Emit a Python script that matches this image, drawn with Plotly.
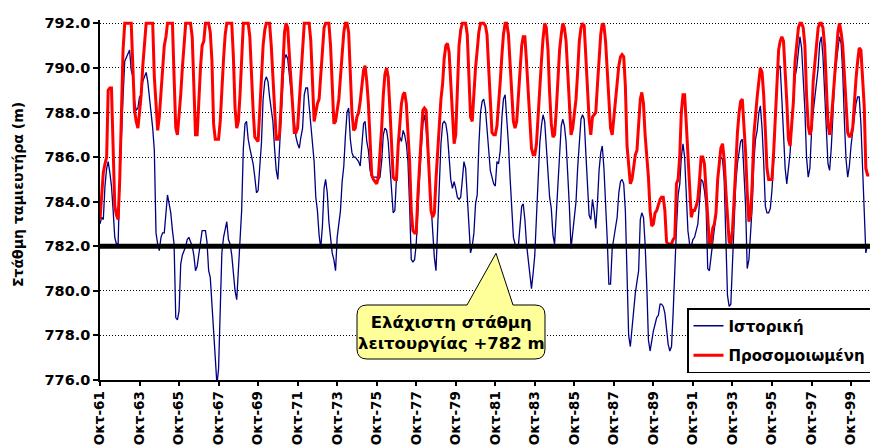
import pandas as pd
import plotly.graph_objects as go

# Monthly reservoir level (m), hydrological years starting in October 1961
historical = [
    783.0, 783.3, 783.2, 784.7, 785.5, 785.8, 785.3, 784.7, 783.6, 782.4, 782.1, 782.1,
    785.0, 787.2, 788.7, 790.3, 790.5, 790.6, 790.8, 789.9, 789.6, 788.5, 788.1, 788.2,
    788.7, 788.8, 789.4, 789.6, 789.8, 789.4, 788.7, 788.1, 787.3, 786.3, 782.6, 782.1,
    781.8, 782.4, 782.6, 782.6, 783.4, 784.3, 783.9, 783.5, 782.7, 782.1, 778.8, 778.7,
    779.1, 781.2, 781.6, 781.8, 782.0, 782.3, 782.4, 782.2, 782.0, 781.6, 780.9, 781.1,
    781.6, 782.2, 782.7, 782.7, 782.7, 782.2, 780.9, 780.6, 779.3, 778.0, 777.0, 775.8,
    776.5, 778.8, 781.7, 782.4, 782.8, 783.1, 782.3, 782.1, 781.6, 780.6, 780.0, 779.6,
    780.9, 781.9, 783.6, 786.4, 787.5, 787.6, 786.8, 786.4, 786.0, 785.7, 785.1, 784.4,
    784.5, 785.6, 786.6, 788.6, 789.4, 789.6, 789.4, 788.7, 788.1, 787.6, 786.4, 785.4,
    785.0, 786.2, 787.8, 789.3, 790.4, 790.6, 790.4, 789.7, 789.0, 788.2, 787.4, 786.9,
    786.6, 786.4, 786.9, 787.3, 788.8, 789.1, 789.1, 788.3, 787.3, 786.4, 785.8, 784.2,
    783.6, 782.5, 781.9, 782.9, 784.6, 785.0, 784.4, 783.1, 782.2, 781.7, 781.4, 780.9,
    782.4, 782.9, 783.6, 784.9, 785.6, 786.9, 788.0, 788.2, 786.8, 786.2, 786.0, 786.0,
    785.9, 785.8, 785.6, 786.6, 787.5, 787.6, 786.7, 786.3, 785.4, 785.1, 785.1, 785.1,
    785.1, 785.0, 785.1, 785.8, 787.0, 787.3, 787.2, 786.7, 785.5, 784.3, 783.5, 783.6,
    785.1, 786.6, 786.9, 786.7, 787.2, 787.0, 786.6, 785.8, 783.8, 781.4, 781.3, 781.4,
    782.1, 783.8, 785.1, 786.3, 787.5, 787.9, 787.3, 786.3, 785.1, 783.7, 782.2, 781.5,
    780.9, 782.8, 785.0, 786.6, 787.5, 787.6, 787.5, 787.0, 786.0, 785.0, 784.6, 784.9,
    784.6, 784.2, 784.1, 784.2, 785.0, 785.8, 785.5, 784.4, 783.1, 781.7, 782.0, 782.6,
    783.9, 784.3, 786.5, 788.0, 788.5, 788.6, 788.2, 787.4, 786.4, 785.4, 785.1, 784.8,
    784.7, 785.8, 785.7, 786.3, 787.8, 788.6, 788.8, 787.9, 786.6, 785.1, 783.6, 782.4,
    782.1, 781.9, 782.0, 782.9, 783.8, 783.9, 783.2, 782.1, 781.4, 780.6, 780.1, 780.8,
    781.6, 783.3, 785.2, 786.6, 787.4, 787.9, 787.6, 786.3, 785.1, 784.2, 783.7, 782.5,
    782.1, 783.4, 785.0, 786.5, 787.4, 787.7, 787.4, 786.7, 785.4, 783.8, 781.9, 782.7,
    783.2, 784.0, 785.5, 786.9, 787.7, 787.9, 787.7, 786.2, 784.7, 783.4, 783.2, 784.1,
    783.6, 782.8, 783.9, 785.4, 786.2, 786.5, 785.5, 784.2, 782.3, 780.3, 780.3, 781.9,
    782.3, 782.8, 783.3, 784.4, 784.9, 785.0, 784.8, 783.6, 781.0, 778.0, 777.5, 778.4,
    779.4, 779.9, 780.4, 780.9, 783.2, 783.5, 783.3, 782.1, 780.2, 777.8, 777.3, 777.8,
    778.2, 778.5, 778.8, 778.9, 779.4, 779.4, 779.3, 779.0, 778.2, 777.6, 777.3, 777.5,
    779.0, 781.3, 782.8, 784.3, 784.8, 786.0, 786.6, 786.0, 784.0, 782.7, 782.1, 782.0,
    782.3, 782.4, 782.7, 783.0, 784.0, 785.0, 784.9, 784.5, 783.8, 781.0, 780.9, 781.6,
    782.2, 782.8, 783.4, 785.0, 785.7, 786.0, 785.9, 785.0, 782.0, 779.8, 779.3, 779.4,
    781.2, 783.2, 784.8, 785.7, 786.2, 786.7, 786.8, 785.6, 783.8, 781.0, 781.4, 782.6,
    783.8, 785.8, 786.8, 787.2, 788.0, 788.3, 787.3, 785.8, 783.8, 783.5, 783.5, 783.7,
    784.5, 785.8, 788.0, 789.4, 790.0, 790.1, 788.6, 787.0, 785.5, 784.8, 785.5, 786.2,
    787.4, 788.8, 789.6, 790.0, 790.6, 791.4, 790.9, 789.6, 788.1, 786.0, 785.1, 785.5,
    787.1, 788.0, 788.7, 789.5, 790.0, 791.1, 791.4, 790.5, 789.0, 787.0, 785.7, 785.4,
    786.4, 787.9, 789.4, 790.2, 790.8, 791.4, 791.1, 789.8, 787.6, 785.9, 785.1, 785.6,
    786.5, 787.2, 788.0, 788.4, 788.7, 788.7, 787.5, 785.4, 783.2, 781.7, 782.1, 781.9,
]

simulated = [
    783.2, 784.5, 785.3, 785.7, 786.0, 789.0, 789.1, 789.1, 786.3, 783.8, 783.4, 783.2,
    785.0, 788.8, 790.8, 792.0, 792.0, 792.0, 792.0, 792.0, 790.0, 788.1, 787.6, 787.3,
    788.0, 788.8, 790.1, 791.0, 792.0, 792.0, 792.0, 792.0, 792.0, 789.6, 788.2, 787.2,
    787.8, 788.8, 790.0, 791.0, 791.4, 792.0, 792.0, 792.0, 792.0, 789.6, 787.3, 787.0,
    787.8, 788.8, 790.0, 791.0, 792.0, 792.0, 792.0, 792.0, 791.4, 789.6, 787.0, 787.0,
    788.8, 790.0, 791.0, 791.2, 792.0, 792.0, 792.0, 791.6, 790.3, 787.5, 786.8, 786.8,
    786.8, 787.6, 789.2, 790.4, 791.5, 792.0, 792.0, 792.0, 792.0, 790.5, 788.2, 787.3,
    787.6, 788.8, 790.6, 792.0, 792.0, 792.0, 792.0, 791.4, 789.6, 788.1, 786.9, 786.8,
    786.7, 788.1, 789.6, 791.0, 791.7, 792.0, 792.0, 792.0, 791.0, 789.6, 788.1, 786.8,
    786.8, 787.0, 788.4, 790.0, 791.6, 792.0, 791.8, 790.6, 789.6, 788.3, 787.1, 787.1,
    787.3, 788.6, 789.6, 790.6, 792.0, 792.0, 792.0, 792.0, 791.2, 789.6, 787.6, 788.0,
    788.4, 788.6, 789.6, 791.0, 791.8, 792.0, 792.0, 792.0, 791.0, 789.0, 787.5, 787.6,
    788.1, 788.6, 789.6, 790.8, 791.6, 792.0, 792.0, 791.6, 789.4, 788.0, 787.2, 787.3,
    787.8, 788.0, 788.5, 789.2, 789.9, 790.1, 789.4, 788.4, 786.3, 785.2, 785.0, 784.9,
    784.8, 785.1, 786.1, 787.3, 788.8, 789.7, 790.0, 789.6, 788.2, 786.3, 785.1, 785.0,
    785.0, 786.5, 787.3, 788.4, 788.8, 788.9, 788.4, 787.3, 785.8, 783.6, 782.7, 782.6,
    782.6, 784.3, 785.8, 786.9, 788.1, 788.2, 788.1, 786.6, 785.1, 783.6, 783.3, 783.5,
    785.0, 786.3, 787.8, 788.6, 789.3, 790.4, 791.0, 791.1, 790.7, 789.5, 788.0, 786.6,
    787.0, 789.2, 791.0, 791.7, 792.0, 792.0, 792.0, 791.5, 789.6, 787.8, 787.6, 789.0,
    790.0, 790.8, 791.6, 792.0, 792.0, 792.0, 791.9, 791.5, 790.0, 788.2, 787.1, 787.0,
    787.0, 787.4, 788.2, 789.4, 790.6, 791.5, 792.0, 792.0, 791.5, 790.3, 788.8, 787.6,
    787.3, 787.6, 788.7, 789.9, 791.0, 791.4, 791.4, 790.3, 788.8, 787.6, 786.4, 786.1,
    786.1, 786.6, 788.0, 789.2, 790.3, 791.3, 792.0, 791.8, 790.8, 788.9, 787.5, 786.9,
    787.0, 788.1, 789.6, 790.8, 791.5, 792.0, 791.8, 791.2, 789.8, 788.3, 787.0, 787.3,
    788.0, 788.6, 789.8, 791.2, 791.8, 792.0, 791.9, 790.5, 788.9, 787.7, 787.0, 787.8,
    787.9, 788.0, 789.2, 790.6, 791.5, 792.0, 791.9, 791.2, 789.9, 788.4, 787.3, 787.0,
    787.8, 788.7, 789.4, 790.1, 790.5, 790.6, 790.5, 789.2, 786.5, 785.6, 784.8, 785.0,
    785.7, 786.1, 786.3, 787.6, 788.6, 788.9, 788.4, 787.0, 786.0, 785.1, 783.6, 782.9,
    783.0, 783.5, 783.6, 783.9, 784.1, 784.2, 784.2, 783.6, 782.2, 782.1, 782.1, 782.1,
    782.3, 782.4, 784.8, 785.0, 786.1, 788.0, 788.8, 788.8, 787.5, 785.9, 784.4, 783.3,
    783.6, 783.6, 783.8, 784.1, 785.0, 786.0, 786.0, 785.7, 784.5, 783.0, 782.1, 782.1,
    782.8, 783.0, 783.5, 785.0, 785.8, 786.4, 786.6, 785.9, 784.5, 783.2, 782.2, 782.1,
    782.7, 784.1, 785.6, 787.1, 788.0, 788.5, 788.6, 787.6, 786.2, 784.4, 783.1, 783.4,
    784.8, 787.0, 788.0, 788.7, 789.4, 790.0, 789.8, 788.8, 787.2, 785.5, 785.0, 785.0,
    785.0, 786.2, 787.8, 789.8, 790.8, 791.2, 791.4, 791.2, 790.0, 788.5, 786.8, 786.5,
    787.5, 788.5, 790.3, 791.2, 791.8, 792.0, 792.0, 791.8, 791.0, 788.8, 787.4, 787.0,
    787.3, 789.4, 790.4, 791.0, 791.8, 792.0, 792.0, 791.8, 791.0, 789.0, 787.5, 787.0,
    787.6, 788.6, 789.6, 790.8, 791.6, 792.0, 791.6, 791.0, 789.8, 788.3, 787.1, 786.9,
    787.0, 787.3, 788.6, 789.5, 790.3, 790.9, 790.8, 789.8, 788.3, 785.5, 785.2, 785.2,
]

months = pd.date_range("1961-10-01", periods=len(historical), freq="MS")
min_operating_level = 782.0

tick_years = list(range(1961, 2000, 2))
tick_vals = [pd.Timestamp(year=y, month=10, day=1) for y in tick_years]
tick_text = [f"Οκτ-{y % 100:02d}" for y in tick_years]

names = ["Ιστορική", "Προσομοιωμένη"]

# Figure geometry (pixels)
W, H = 870, 446
ML, MR, MT, MB = 100, 0, 20, 66
PW, PH = W - ML - MR, H - MT - MB
Y_MIN, Y_MAX = 776.0, 792.15


def px(x):
    return (x - ML) / PW


def py(y):
    return 1 - (y - MT) / PH


def ypix(v):
    return MT + (Y_MAX - v) / (Y_MAX - Y_MIN) * PH


FONT = "DejaVu Sans"

fig = go.Figure()
fig.add_trace(go.Scatter(
    x=months, y=historical, mode="lines", name=names[0],
    line=dict(color="#000080", width=1.3), legendgroup="a",
))
fig.add_trace(go.Scatter(
    x=months, y=simulated, mode="lines", name=names[1],
    line=dict(color="#FF0000", width=3), legendgroup="b",
))

# Minimum operating level
fig.add_shape(type="line", xref="paper", x0=0, x1=1, yref="y",
              y0=min_operating_level, y1=min_operating_level,
              line=dict(color="black", width=5), layer="above")

# Callout bubble pointing at the minimum level line
x0, x1, y0, y1, r = 357, 545, 305, 359, 10
apex_y = ypix(min_operating_level) + 7
pts = [
    ("M", (x0 + r, y0)), ("L", (467, y0)), ("L", (496, apex_y)), ("L", (513, y0)),
    ("L", (x1 - r, y0)), ("Q", (x1, y0), (x1, y0 + r)), ("L", (x1, y1 - r)),
    ("Q", (x1, y1), (x1 - r, y1)), ("L", (x0 + r, y1)), ("Q", (x0, y1), (x0, y1 - r)),
    ("L", (x0, y0 + r)), ("Q", (x0, y0), (x0 + r, y0)),
]
path = ""
for cmd, *coords in pts:
    path += cmd + " " + " ".join(f"{px(a):.5f},{py(b):.5f}" for a, b in coords) + " "
path += "Z"
fig.add_shape(type="path", xref="paper", yref="paper", path=path,
              fillcolor="#FFFF99", line=dict(color="black", width=1), layer="above")

fig.add_annotation(
    xref="paper", yref="paper", x=px(451), y=py(333), showarrow=False,
    text="Ελάχιστη στάθμη<br>λειτουργίας +782 m", align="center",
    xanchor="center", yanchor="middle",
    font=dict(family=FONT, size=16.5, color="black", weight="bold"),
)

# Y axis title
fig.add_annotation(
    xref="paper", yref="paper", x=px(18), y=py(195), showarrow=False,
    text="Στάθμη ταμιευτήρα (m)", textangle=-90,
    xanchor="center", yanchor="middle",
    font=dict(family=FONT, size=14, color="black", weight="bold"),
)

fig.update_layout(
    width=W, height=H,
    margin=dict(l=ML, r=MR, t=MT, b=MB, autoexpand=False),
    paper_bgcolor="white", plot_bgcolor="white",
    showlegend=True,
    legend=dict(
        x=px(687), y=py(308), xanchor="left", yanchor="top",
        bgcolor="white", bordercolor="black", borderwidth=1.5,
        font=dict(family=FONT, size=15, color="black", weight="bold"),
        traceorder="grouped", tracegroupgap=7,
    ),
    xaxis=dict(
        range=[months[0], pd.Timestamp("2000-09-16")],
        tickvals=tick_vals, ticktext=tick_text, tickangle=-90,
        tickfont=dict(family=FONT, size=13.5, color="black", weight="bold"),
        showgrid=False, zeroline=False,
        showline=True, linecolor="black", linewidth=1.5,
        ticks="outside", ticklen=4, tickcolor="black", tickwidth=1.5,
    ),
    yaxis=dict(
        range=[Y_MIN, Y_MAX], tickvals=[776, 778, 780, 782, 784, 786, 788, 790, 792],
        tickformat=".1f",
        tickfont=dict(family=FONT, size=14.5, color="black", weight="bold"),
        showgrid=True, gridcolor="black", gridwidth=1, griddash="1px,2px",
        zeroline=False,
        showline=True, linecolor="black", linewidth=1.5,
        ticks="outside", ticklen=5, tickcolor="black", tickwidth=1.5,
    ),
)

fig.write_html("out.html")
